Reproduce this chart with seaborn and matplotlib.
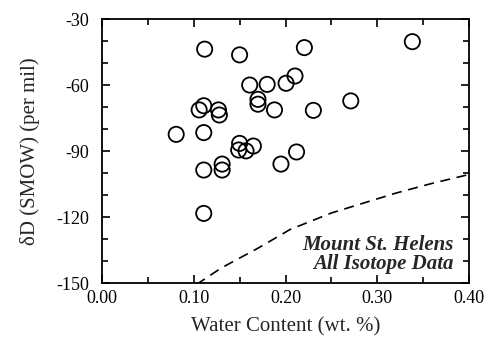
import numpy as np
import pandas as pd
import matplotlib
matplotlib.use("Agg")
from matplotlib import pyplot as plt
from matplotlib.ticker import MultipleLocator, FormatStrFormatter
import seaborn as sns

# data
water = [0.081, 0.106, 0.111, 0.111, 0.111, 0.111, 0.112, 0.127, 0.128, 0.131,
         0.131, 0.150, 0.150, 0.149, 0.157, 0.161, 0.165, 0.170, 0.170, 0.180,
         0.188, 0.195, 0.2006, 0.2103, 0.212, 0.2205, 0.2303, 0.271, 0.338]
dD = [-82.3, -71.2, -69.3, -81.5, -98.5, -118.2, -43.6, -71.2, -73.5, -95.8,
      -98.5, -46.2, -86.4, -89.4, -89.8, -59.9, -87.6, -66.4, -68.6, -59.6,
      -71.2, -95.8, -59.1, -55.8, -90.3, -42.9, -71.4, -67.1, -40.2]

curve_x = [0.103, 0.13, 0.17, 0.205, 0.25, 0.285, 0.32, 0.36, 0.40]
curve_y = [-150.5, -143, -134, -125.5, -118, -113.5, -109, -104.5, -100.5]

pts = pd.DataFrame({'water': water, 'dD': dD})
curve = pd.DataFrame({'water': curve_x, 'dD': curve_y})

sns.set_theme(style='ticks')
plt.rcParams['font.family'] = ['Liberation Serif', 'DejaVu Serif']
plt.rcParams['axes.unicode_minus'] = False
plt.rcParams['axes.linewidth'] = 1.3

fig = plt.figure(figsize=(4.94, 3.37), dpi=100)
ax = fig.add_axes([0.206, 0.159, 0.744, 0.784])

sns.lineplot(data=curve, x='water', y='dD', ax=ax, color='black', lw=1.2,
             linestyle=(0, (6, 4)))
sns.scatterplot(data=pts, x='water', y='dD', ax=ax, s=120, marker='o',
                facecolor='none', edgecolor='black', linewidth=1.3, zorder=3)

ax.set_xlim(0, 0.40)
ax.set_ylim(-150, -30)
ax.xaxis.set_major_locator(MultipleLocator(0.1))
ax.xaxis.set_minor_locator(MultipleLocator(0.05))
ax.yaxis.set_major_locator(MultipleLocator(30))
ax.yaxis.set_minor_locator(MultipleLocator(10))
ax.xaxis.set_major_formatter(FormatStrFormatter('%.2f'))
ax.tick_params(which='both', direction='in', top=True, right=True,
               labelsize=13, colors='black', width=1.2)
ax.tick_params(which='major', length=6)
ax.tick_params(which='minor', length=4)
ax.tick_params(axis='x', pad=5)
ax.tick_params(axis='y', pad=9)
for s in ax.spines.values():
    s.set_color('black')

ax.set_xlabel('Water Content (wt. %)', fontsize=15, labelpad=7)
ax.set_ylabel('δD (SMOW) (per mil)', fontsize=15, labelpad=12)

ax.text(0.383, -128, 'Mount St. Helens\nAll Isotope Data', ha='right', va='top',
        fontsize=15, fontweight='bold', fontstyle='italic', linespacing=0.95)

fig.savefig('out.png', dpi=100)
